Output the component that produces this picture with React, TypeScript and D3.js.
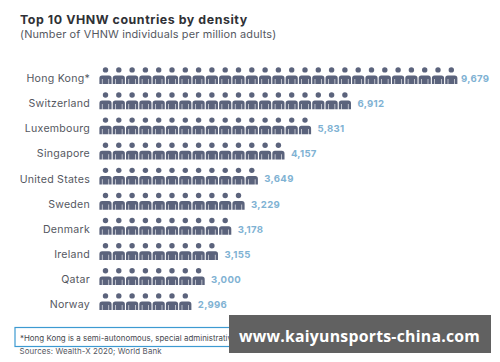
import React from "react";
import * as d3 from "d3";

const countries = ["Hong Kong*", "Switzerland", "Luxembourg", "Singapore", "United States", "Sweden", "Denmark", "Ireland", "Qatar", "Norway"];
const values = [9679, 6912, 5831, 4157, 3649, 3229, 3178, 3155, 3000, 2996];
const iconCounts = [27, 19, 16, 14, 12, 11, 10, 9, 8, 7];
const W = 500, H = 362;
const sans = "Inter, 'Open Sans', sans-serif";
const y = d3.scalePoint<string>().domain(countries).range([78.5, 304.5]);
const x = d3.scaleLinear().domain([0, 1]).range([105.5, 118.8]);
const fmt = d3.format(",");

function Person({ cx, cy }: { cx: number; cy: number }) {
  return (
    <g transform={`translate(${cx},${cy})`} fill="#5b637c">
      <circle cx={0} cy={-8.6} r={2.7} />
      <path d="M-6.1,5.6 V-0.2 Q-6.1,-3 -3.4,-3 H3.4 Q6.1,-3 6.1,-0.2 V5.6 H3.6 V0.4 H3 V5.6 H-3 V0.4 H-3.6 V5.6 Z" />
    </g>
  );
}

export default function App() {
  return (
    <svg width={W} height={H} style={{ position: "absolute", left: 0, top: 0, background: "#fff", fontFamily: sans }}>
      <text x={20} y={23.5} fontSize={12.4} fontWeight={700} letterSpacing={0.55} fill="#2f3136">Top 10 VHNW countries by density</text>
      <text x={20} y={37.5} fontSize={10.9} letterSpacing={0.16} fill="#55585f">(Number of VHNW individuals per million adults)</text>
      {countries.map((c, i) => {
        const cy = y(c)!;
        const n = iconCounts[i];
        return (
          <g key={c}>
            <text x={90} y={cy + 3.6} textAnchor="end" fontSize={10.6} letterSpacing={0.25} fill="#55585f">{c}</text>
            {d3.range(n).map((k) => <Person key={k} cx={x(k)} cy={cy} />)}
            <text x={Math.min(x(n - 1) + 12.5, 461)} y={cy + 3.5} fontSize={9.6} fontWeight={700} letterSpacing={0.3} fill="#7fb2d3">{fmt(values[i])}</text>
          </g>
        );
      })}
      <rect x={15} y={327.5} width={297} height={19} fill="#fff" stroke="#3d9ad1" strokeWidth={1.2} />
      <text x={20} y={341} fontSize={7.9} letterSpacing={0.02} fill="#44474d">*Hong Kong is a semi-autonomous, special administrative region of China</text>
      <text x={19.5} y={354} fontSize={7.9} letterSpacing={0.1} fill="#55585f">Sources: Wealth-X 2020; World Bank</text>
      <rect x={229} y={315} width={262} height={38} fill="#616161" />
      <text x={359.5} y={341.5} textAnchor="middle" fontFamily="'Open Sans', sans-serif" fontSize={15.8} fontWeight={700} letterSpacing={0.25} fill="#fff">www.kaiyunsports-china.com</text>
    </svg>
  );
}
